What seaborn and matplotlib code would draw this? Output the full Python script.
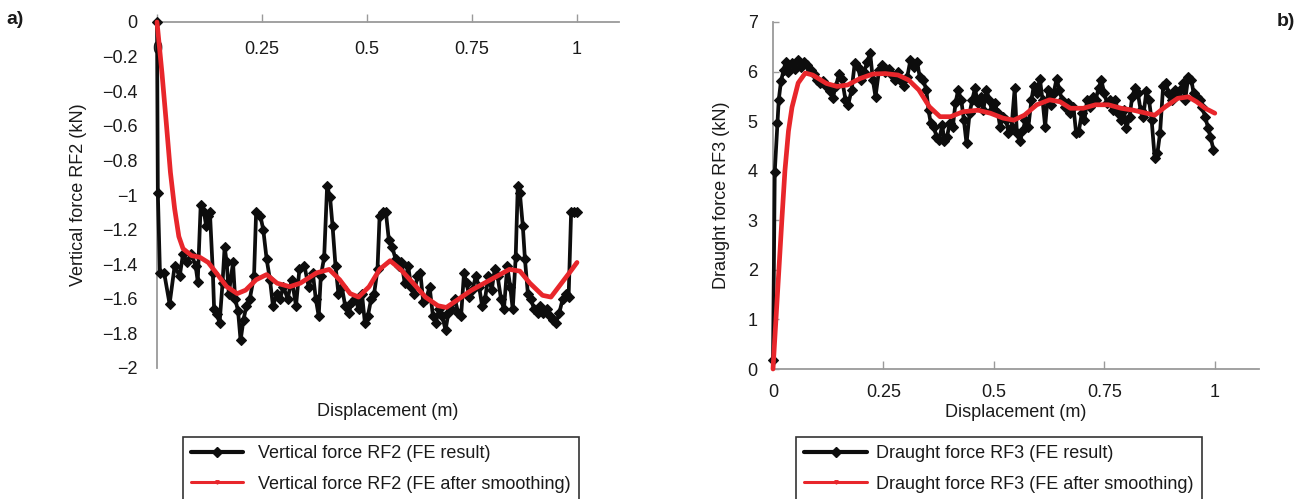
import numpy as np
import pandas as pd
import seaborn as sns
import matplotlib.pyplot as plt
from matplotlib.lines import Line2D

# ---------------- data ----------------
rf2_x = [0, 0.002, 0.007, 0.017, 0.030, 0.042, 0.054, 0.062, 0.072, 0.082,
         0.092, 0.097, 0.104, 0.112, 0.117, 0.122, 0.126, 0.133, 0.136, 0.143,
         0.149, 0.156, 0.161, 0.166, 0.171, 0.181, 0.186, 0.193, 0.199, 0.206,
         0.213, 0.221, 0.231, 0.236, 0.246, 0.253, 0.261, 0.269, 0.276, 0.286,
         0.293, 0.301, 0.311, 0.321, 0.331, 0.339, 0.351, 0.361, 0.371, 0.378,
         0.385, 0.390, 0.398, 0.405, 0.412, 0.418, 0.425, 0.432, 0.440, 0.448,
         0.456, 0.465, 0.472, 0.480, 0.488, 0.495, 0.502, 0.510, 0.517, 0.525,
         0.530, 0.538, 0.545, 0.552, 0.560, 0.568, 0.575, 0.582, 0.590, 0.598,
         0.605, 0.612, 0.620, 0.627, 0.634, 0.641, 0.649, 0.657, 0.664, 0.671,
         0.679, 0.687, 0.694, 0.701, 0.709, 0.717, 0.724, 0.731, 0.737, 0.744,
         0.751, 0.759, 0.767, 0.774, 0.781, 0.789, 0.797, 0.804, 0.811, 0.819,
         0.826, 0.834, 0.841, 0.847, 0.854, 0.859, 0.864, 0.871, 0.876, 0.883,
         0.890, 0.898, 0.906, 0.913, 0.920, 0.928, 0.936, 0.943, 0.950, 0.958,
         0.966, 0.973, 0.980, 0.986, 0.993, 1.0]
rf2_fe = [0, -0.99, -1.45, -1.45, -1.63, -1.41, -1.47, -1.34, -1.39, -1.34,
          -1.41, -1.50, -1.06, -1.10, -1.18, -1.12, -1.10, -1.45, -1.66, -1.69,
          -1.74, -1.51, -1.30, -1.39, -1.57, -1.39, -1.60, -1.67, -1.84, -1.72,
          -1.64, -1.60, -1.47, -1.10, -1.12, -1.20, -1.37, -1.49, -1.64, -1.57,
          -1.60, -1.53, -1.60, -1.49, -1.64, -1.43, -1.41, -1.53, -1.45, -1.60,
          -1.70, -1.47, -1.36, -0.95, -1.01, -1.18, -1.41, -1.57, -1.53, -1.64,
          -1.68, -1.62, -1.60, -1.66, -1.57, -1.74, -1.70, -1.60, -1.57, -1.43,
          -1.12, -1.10, -1.10, -1.26, -1.30, -1.37, -1.41, -1.39, -1.51, -1.41,
          -1.53, -1.57, -1.47, -1.45, -1.62, -1.60, -1.53, -1.70, -1.74, -1.66,
          -1.70, -1.78, -1.68, -1.66, -1.60, -1.68, -1.70, -1.45, -1.51, -1.59,
          -1.55, -1.47, -1.53, -1.64, -1.60, -1.47, -1.55, -1.43, -1.47, -1.60,
          -1.66, -1.41, -1.53, -1.66, -1.36, -0.95, -0.99, -1.18, -1.37, -1.57,
          -1.60, -1.66, -1.68, -1.64, -1.68, -1.66, -1.70, -1.72, -1.74, -1.68,
          -1.60, -1.57, -1.59, -1.10, -1.10, -1.10]

rf2_sx = [0, 0.012, 0.022, 0.032, 0.042, 0.052, 0.062, 0.082, 0.102, 0.122,
          0.141, 0.166, 0.191, 0.211, 0.236, 0.261, 0.286, 0.316, 0.341, 0.380,
          0.410, 0.435, 0.460, 0.480, 0.505, 0.530, 0.555, 0.580, 0.610, 0.639,
          0.669, 0.689, 0.719, 0.749, 0.779, 0.809, 0.839, 0.864, 0.888, 0.918,
          0.938, 0.963, 0.988, 1.0]
rf2_smooth = [0, -0.30, -0.58, -0.87, -1.08, -1.24, -1.31, -1.35, -1.36, -1.39,
              -1.45, -1.53, -1.57, -1.55, -1.49, -1.46, -1.51, -1.53, -1.51, -1.45,
              -1.43, -1.49, -1.57, -1.59, -1.53, -1.43, -1.38, -1.43, -1.51, -1.59,
              -1.64, -1.65, -1.60, -1.55, -1.51, -1.47, -1.43, -1.44, -1.51, -1.58,
              -1.59, -1.51, -1.43, -1.39]

rf3_x = [0, 0.004, 0.01, 0.013, 0.018, 0.024, 0.029, 0.035, 0.042, 0.05,
         0.056, 0.064, 0.071, 0.078, 0.086, 0.092, 0.1, 0.107, 0.113, 0.121,
         0.129, 0.135, 0.142, 0.15, 0.156, 0.164, 0.17, 0.178, 0.185, 0.192,
         0.199, 0.207, 0.213, 0.22, 0.226, 0.232, 0.24, 0.247, 0.254, 0.262,
         0.269, 0.276, 0.283, 0.29, 0.297, 0.304, 0.311, 0.319, 0.326, 0.332,
         0.34, 0.347, 0.352, 0.357, 0.364, 0.37, 0.376, 0.383, 0.388, 0.394,
         0.4, 0.407, 0.413, 0.419, 0.426, 0.432, 0.438, 0.445, 0.451, 0.457,
         0.464, 0.47, 0.476, 0.483, 0.49, 0.495, 0.502, 0.509, 0.514, 0.521,
         0.528, 0.533, 0.54, 0.547, 0.552, 0.559, 0.566, 0.571, 0.578, 0.585,
         0.59, 0.597, 0.604, 0.61, 0.616, 0.623, 0.629, 0.635, 0.642, 0.648,
         0.654, 0.661, 0.667, 0.673, 0.68, 0.686, 0.692, 0.699, 0.705, 0.711,
         0.718, 0.724, 0.73, 0.737, 0.743, 0.75, 0.756, 0.762, 0.769, 0.775,
         0.781, 0.788, 0.794, 0.8, 0.807, 0.813, 0.819, 0.826, 0.832, 0.838,
         0.845, 0.851, 0.857, 0.864, 0.87, 0.876, 0.883, 0.89, 0.895, 0.902,
         0.909, 0.914, 0.921, 0.928, 0.933, 0.94, 0.947, 0.952, 0.959, 0.966,
         0.971, 0.978, 0.985, 0.99, 0.997]
rf3_fe = [0.19, 3.98, 4.96, 5.43, 5.8, 6.03, 6.2, 6.0, 6.17, 6.06,
          6.23, 6.1, 6.2, 6.13, 6.03, 5.96, 5.83, 5.76, 5.8, 5.7,
          5.6, 5.46, 5.7, 5.96, 5.86, 5.43, 5.33, 5.63, 6.17, 6.1,
          5.83, 6.0, 6.2, 6.37, 5.83, 5.49, 6.03, 6.13, 6.0, 6.06,
          5.93, 5.83, 6.0, 5.8, 5.7, 5.9, 6.23, 6.1, 6.2, 5.9,
          5.83, 5.63, 5.22, 4.96, 4.89, 4.69, 4.62, 4.92, 4.59, 4.69,
          4.96, 4.89, 5.36, 5.63, 5.43, 5.02, 4.55, 5.16, 5.43, 5.66,
          5.36, 5.49, 5.22, 5.63, 5.43, 5.22, 5.36, 5.16, 4.89, 5.09,
          5.02, 4.76, 4.89, 5.66, 4.76, 4.59, 4.82, 5.02, 4.89, 5.43,
          5.7, 5.56, 5.86, 5.43, 4.89, 5.63, 5.33, 5.56, 5.86, 5.63,
          5.43, 5.29, 5.36, 5.16, 5.29, 4.76, 4.79, 5.16, 5.02, 5.43,
          5.29, 5.49, 5.43, 5.66, 5.83, 5.56, 5.36, 5.43, 5.22, 5.43,
          5.16, 5.02, 5.22, 4.86, 5.09, 5.49, 5.66, 5.56, 5.22, 5.09,
          5.6, 5.43, 5.02, 4.25, 4.35, 4.76, 5.7, 5.76, 5.56, 5.43,
          5.63, 5.53, 5.63, 5.76, 5.43, 5.9, 5.83, 5.56, 5.49, 5.43,
          5.29, 5.09, 4.86, 4.69, 4.42]

rf3_sx = [0, 0.01, 0.02, 0.027, 0.035, 0.043, 0.057, 0.073, 0.09, 0.121,
          0.145, 0.169, 0.197, 0.226, 0.254, 0.283, 0.307, 0.33, 0.354, 0.378,
          0.402, 0.43, 0.464, 0.492, 0.521, 0.545, 0.569, 0.597, 0.626, 0.65,
          0.673, 0.702, 0.73, 0.759, 0.788, 0.816, 0.845, 0.864, 0.888, 0.916,
          0.94, 0.959, 0.978, 1.0]
rf3_smooth = [0, 1.5, 3.0, 4.0, 4.8, 5.28, 5.77, 5.97, 5.93, 5.76,
              5.7, 5.73, 5.86, 5.95, 5.96, 5.93, 5.83, 5.63, 5.29, 5.09,
              5.09, 5.19, 5.22, 5.16, 5.06, 5.02, 5.12, 5.33, 5.43, 5.39,
              5.26, 5.26, 5.33, 5.33, 5.26, 5.22, 5.16, 5.12, 5.29, 5.46,
              5.49, 5.39, 5.26, 5.16]

x_ticks = [0, 0.25, 0.5, 0.75, 1]
x_tick_labels = ['0', '0.25', '0.5', '0.75', '1']
rf2_ticks = [0, -0.2, -0.4, -0.6, -0.8, -1, -1.2, -1.4, -1.6, -1.8, -2]
rf2_tick_labels = ['0', '\u22120.2', '\u22120.4', '\u22120.6', '\u22120.8', '\u22121',
                   '\u22121.2', '\u22121.4', '\u22121.6', '\u22121.8', '\u22122']
rf3_ticks = [0, 1, 2, 3, 4, 5, 6, 7]
rf3_tick_labels = ['0', '1', '2', '3', '4', '5', '6', '7']

leg_a = ['Vertical force RF2 (FE result)', 'Vertical force RF2 (FE after smoothing)']
leg_b = ['Draught force RF3 (FE result)', 'Draught force RF3 (FE after smoothing)']

# ---------------- style ----------------
sns.set_theme(style='white')
plt.rcParams['font.family'] = ['Liberation Sans', 'DejaVu Sans']
BLACK = '#0d0d0d'
RED = '#e8262b'
AXC = '#9a9a9a'
TXT = '#1a1a1a'

W, H = 1306, 499
fig = plt.figure(figsize=(W / 100, H / 100), dpi=100)
axL = fig.add_axes([157 / W, 1 - 368 / H, (619 - 157) / W, (368 - 22) / H])
axR = fig.add_axes([773 / W, 1 - 369 / H, (1259 - 773) / W, (369 - 22) / H])


def draw(ax, x, y, sx, sy):
    sns.lineplot(x=x, y=y, ax=ax, color=BLACK, linewidth=2.7, marker='D',
                 markersize=5.5, markeredgecolor=BLACK, markeredgewidth=0.8,
                 estimator=None, sort=False, clip_on=False, zorder=3)
    sns.lineplot(x=sx, y=sy, ax=ax, color=RED, linewidth=3.4,
                 estimator=None, sort=False, clip_on=False, zorder=4)


draw(axL, rf2_x, rf2_fe, rf2_sx, rf2_smooth)
draw(axR, rf3_x, rf3_fe, rf3_sx, rf3_smooth)

# left panel (negative axis, x axis crossing at 0 on top)
axL.set_xlim(0, 1.1)
axL.set_ylim(-2, 0)
axL.spines['top'].set_visible(False)
axL.spines['right'].set_visible(False)
axL.spines['bottom'].set_position(('data', 0))
for s in ('left', 'bottom'):
    axL.spines[s].set_color(AXC)
    axL.spines[s].set_linewidth(1.3)
axL.set_xticks(x_ticks)
axL.set_xticklabels(x_tick_labels)
axL.set_yticks(rf2_ticks)
axL.set_yticklabels(rf2_tick_labels)
axL.tick_params(axis='x', direction='in', length=6, width=1, color=AXC,
                pad=14, labelsize=13, bottom=True, labelcolor=TXT)
axL.tick_params(axis='y', direction='in', length=0, pad=14, labelsize=13,
                left=True, labelcolor=TXT)
axL.set_xlabel('Displacement (m)', fontsize=13, color=TXT)
axL.set_ylabel('Vertical force RF2 (kN)', fontsize=13, color=TXT)
axL.xaxis.set_label_coords(0.5, -0.1)
axL.yaxis.set_label_coords(-0.152, 0.5)

# right panel
axR.set_xlim(0, 1.1)
axR.set_ylim(0, 7)
axR.spines['top'].set_visible(False)
axR.spines['right'].set_visible(False)
for s in ('left', 'bottom'):
    axR.spines[s].set_color(AXC)
    axR.spines[s].set_linewidth(1.3)
axR.set_xticks(x_ticks)
axR.set_xticklabels(x_tick_labels)
axR.set_yticks(rf3_ticks)
axR.set_yticklabels(rf3_tick_labels)
axR.tick_params(axis='x', direction='in', length=6, width=1, color=AXC,
                pad=11, labelsize=13, bottom=True, labelcolor=TXT)
axR.tick_params(axis='y', direction='in', length=4, width=1, color=AXC,
                pad=11, labelsize=13, left=True, labelcolor=TXT)
axR.set_xlabel('Displacement (m)', fontsize=13, color=TXT)
axR.set_ylabel('Draught force RF3 (kN)', fontsize=13, color=TXT)
axR.xaxis.set_label_coords(0.5, -0.1)
axR.yaxis.set_label_coords(-0.088, 0.5)

for ax in (axL, axR):
    if ax.get_legend() is not None:
        ax.get_legend().remove()


# legends
def handles():
    return [Line2D([], [], color=BLACK, linewidth=3, marker='D', markersize=5.5),
            Line2D([], [], color=RED, linewidth=2.2, marker='v', markersize=2.5)]


for labels, x0, hl, htp in ((leg_a, 183, 2.9, 0.8), (leg_b, 796, 3.5, 0.5)):
    lg = fig.legend(handles(), labels, loc='upper left',
                    bbox_to_anchor=(x0 / W, 1 - 437 / H), borderaxespad=0,
                    frameon=True, fancybox=False, framealpha=1,
                    edgecolor='#333333', handlelength=hl, handletextpad=htp,
                    borderpad=0.45, labelspacing=0.75,
                    prop={'size': 13})
    lg.get_frame().set_linewidth(1.2)
    for t in lg.get_texts():
        t.set_color(TXT)

fig.text(15 / W, 1 - 20 / H, 'a)', fontsize=14, fontweight='bold',
         ha='center', va='center', color=TXT)
fig.text(1286 / W, 1 - 22 / H, 'b)', fontsize=14, fontweight='bold',
         ha='center', va='center', color=TXT)

fig.savefig('out.png', dpi=100)
